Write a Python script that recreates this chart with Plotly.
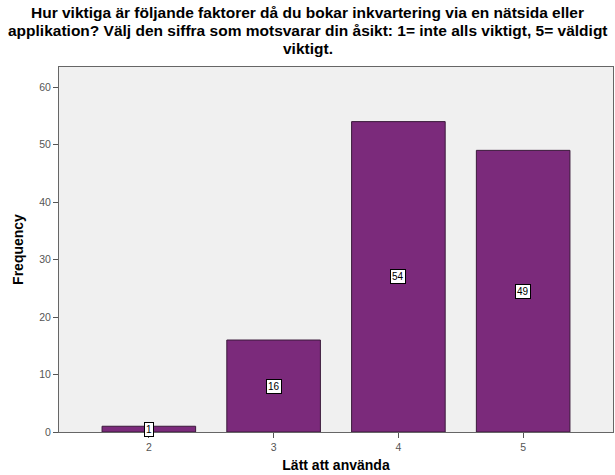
import plotly.graph_objects as go

# Response categories and counts
categories = [2, 3, 4, 5]
counts = [1, 16, 54, 49]
y_ticks = [0, 10, 20, 30, 40, 50, 60]

title_lines = [
    "Hur viktiga är följande faktorer då du bokar inkvartering via en nätsida eller",
    "applikation? Välj den siffra som motsvarar din åsikt: 1= inte alls viktigt, 5= väldigt",
    "viktigt.",
]

W, H = 615, 475
M_L, M_R, M_T, M_B = 59, 2, 67, 43
plot_w = W - M_L - M_R
plot_h = H - M_T - M_B

fig = go.Figure()
fig.add_trace(go.Bar(
    x=categories, y=counts, width=0.75,
    marker=dict(color="#7B2A7B", line=dict(color="#3A1A3A", width=1)),
    hoverinfo="skip",
))

# Boxed value labels at the vertical middle of each bar
for c, v in zip(categories, counts):
    fig.add_annotation(
        x=c, y=v / 2, text=str(v), showarrow=False,
        font=dict(family="Arial, Liberation Sans", size=10, color="black"),
        bgcolor="white", bordercolor="black", borderwidth=1, borderpad=1,
    )

# Three-line title, centred on the page
for i, line in enumerate(title_lines):
    py = 12 + i * 18
    fig.add_annotation(
        xref="paper", yref="paper",
        x=(W / 2 - M_L) / plot_w, y=(H - M_B - py) / plot_h,
        xanchor="center", yanchor="middle", showarrow=False,
        text=f"<b>{line}</b>",
        font=dict(family="Arial, Liberation Sans", size=15.5, color="black"),
    )

fig.update_layout(
    width=W, height=H,
    margin=dict(l=M_L, r=M_R, t=M_T, b=M_B),
    paper_bgcolor="white", plot_bgcolor="#F0F0F0",
    showlegend=False,
    font=dict(family="Arial, Liberation Sans", color="#555"),
)
fig.update_xaxes(
    range=[1.28, 5.72], tickvals=categories, ticks="outside", ticklen=5,
    tickcolor="#555", showgrid=False, zeroline=False,
    showline=True, linecolor="#666", linewidth=1, mirror=True,
    tickfont=dict(size=10.5, color="#555"),
    title=dict(text="<b>Lätt att använda</b>", standoff=8,
               font=dict(size=14, color="black")),
)
fig.update_yaxes(
    range=[0, 63.5], tickvals=y_ticks, ticks="outside", ticklen=5,
    tickcolor="#555", showgrid=False, zeroline=False,
    showline=True, linecolor="#666", linewidth=1, mirror=True,
    tickfont=dict(size=10.5, color="#555"),
    title=dict(text="<b>Frequency</b>", standoff=12,
               font=dict(size=14, color="black")),
)

fig.write_html("out.html")
